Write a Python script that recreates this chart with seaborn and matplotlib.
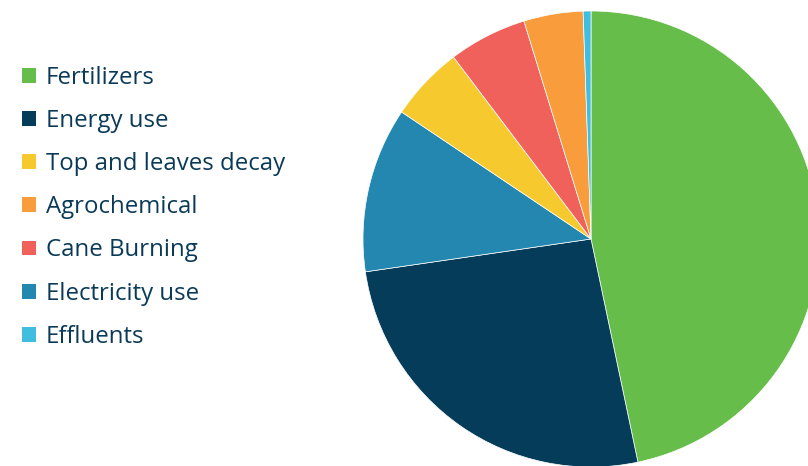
import matplotlib
matplotlib.use("Agg")
import matplotlib.pyplot as plt
from matplotlib.patches import Patch
import seaborn as sns

# Slice data (percent of emissions), in drawing order, clockwise from top
sources = ["Fertilizers", "Energy use", "Electricity use", "Top and leaves decay",
           "Cane Burning", "Agrochemical", "Effluents"]
shares = [46.7, 26.0, 11.7, 5.3, 5.55, 4.2, 0.55]
colors = ["#67bd4a", "#053c5a", "#2387af", "#f6ca2e", "#f0615b", "#f89c3c", "#41bde0"]

# Legend order as shown in the chart
legend_order = ["Fertilizers", "Energy use", "Top and leaves decay", "Agrochemical",
                "Cane Burning", "Electricity use", "Effluents"]

sns.set_theme(style="white")
plt.rcParams["font.family"] = ["Open Sans", "DejaVu Sans"]
palette = dict(zip(sources, sns.color_palette(colors)))

fig = plt.figure(figsize=(8.08, 4.66), dpi=100)
ax = fig.add_axes([0, 0, 1, 1])

ax.pie(shares, colors=[palette[s] for s in sources], startangle=90, counterclock=False,
       center=(591, 227), radius=228, frame=True,
       wedgeprops=dict(edgecolor="white", linewidth=0.5))
ax.set_xlim(0, 808)
ax.set_ylim(0, 466)
ax.set_aspect("equal")
ax.axis("off")

handles = [Patch(facecolor=palette[s], edgecolor="none", label=s) for s in legend_order]
leg = ax.legend(handles=handles, loc="upper left", bbox_to_anchor=(12 / 808, 1 - 56 / 466),
                frameon=False, fontsize=17.3, labelcolor="#0b3a58",
                handlelength=0.58, handleheight=0.58, handletextpad=0.42,
                labelspacing=0.80, borderaxespad=0)

fig.savefig("out.png", dpi=100)
